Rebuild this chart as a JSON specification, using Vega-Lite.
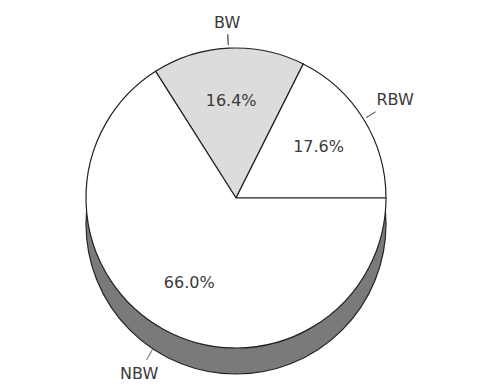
{
  "$schema": "https://vega.github.io/schema/vega-lite/v6.json",
  "width": 489,
  "height": 389,
  "autosize": {"type": "fit", "contains": "padding"},
  "padding": {"left": 0, "right": 17, "top": 0, "bottom": 8},
  "background": "white",
  "config": {
    "view": {"stroke": null},
    "text": {"font": "DejaVu Sans", "fontSize": 16, "fill": "#3a3a3a"}
  },
  "data": {
    "values": [
      {"part": "BW", "share": 16.4, "o": 1, "label": "16.4%"},
      {"part": "RBW", "share": 17.6, "o": 2, "label": "17.6%"},
      {"part": "NBW", "share": 66.0, "o": 3, "label": "66.0%"}
    ]
  },
  "layer": [
    {
      "data": {"values": [{"part": "side"}]},
      "mark": {"type": "arc", "theta": 0, "theta2": 6.2832, "radius": 150, "yOffset": 26, "fill": "#7a7a7a", "stroke": "#222222", "strokeWidth": 1.2},
      "encoding": {}
    },
    {
      "mark": {"type": "arc", "radius": 150, "stroke": "#222222", "strokeWidth": 1.2},
      "encoding": {
        "theta": {"field": "share", "type": "quantitative", "stack": true, "scale": {"domain": [0, 100], "range": [-0.5655, 5.7177]}},
        "order": {"field": "o", "type": "quantitative"},
        "color": {"field": "part", "type": "nominal", "scale": {"domain": ["BW", "RBW", "NBW"], "range": ["#dcdcdc", "#ffffff", "#ffffff"]}, "legend": null}
      }
    },
    {
      "mark": {"type": "text", "radius": 97},
      "encoding": {
        "theta": {"field": "share", "type": "quantitative", "stack": true, "scale": {"domain": [0, 100], "range": [-0.5655, 5.7177]}},
        "order": {"field": "o", "type": "quantitative"},
        "text": {"field": "label"}
      }
    },
    {
      "mark": {"type": "arc", "radius": 164, "radius2": 153, "padAngle": 3, "fillOpacity": 0, "stroke": "#666666", "strokeWidth": 1},
      "encoding": {
        "theta": {"field": "share", "type": "quantitative", "stack": true, "scale": {"domain": [0, 100], "range": [-0.5655, 5.7177]}},
        "order": {"field": "o", "type": "quantitative"},
        "strokeOpacity": {"condition": {"test": "datum.part === 'NBW'", "value": 0}, "value": 1}
      }
    },
    {
      "mark": {"type": "text", "radius": 179, "angle": 119, "fontSize": 13, "fill": "#666666"},
      "encoding": {
        "theta": {"field": "share", "type": "quantitative", "stack": true, "scale": {"domain": [0, 100], "range": [-0.5655, 5.7177]}},
        "order": {"field": "o", "type": "quantitative"},
        "text": {"condition": {"test": "datum.part === 'NBW'", "value": "—"}, "value": ""}
      }
    },
    {
      "mark": {"type": "text", "radius": 175},
      "encoding": {
        "theta": {"field": "share", "type": "quantitative", "stack": true, "scale": {"domain": [0, 100], "range": [-0.5655, 5.7177]}},
        "order": {"field": "o", "type": "quantitative"},
        "text": {"condition": {"test": "datum.part === 'BW'", "field": "part"}, "value": ""}
      }
    },
    {
      "mark": {"type": "text", "radius": 187},
      "encoding": {
        "theta": {"field": "share", "type": "quantitative", "stack": true, "scale": {"domain": [0, 100], "range": [-0.5655, 5.7177]}},
        "order": {"field": "o", "type": "quantitative"},
        "text": {"condition": {"test": "datum.part === 'RBW'", "field": "part"}, "value": ""}
      }
    },
    {
      "mark": {"type": "text", "radius": 201},
      "encoding": {
        "theta": {"field": "share", "type": "quantitative", "stack": true, "scale": {"domain": [0, 100], "range": [-0.5655, 5.7177]}},
        "order": {"field": "o", "type": "quantitative"},
        "text": {"condition": {"test": "datum.part === 'NBW'", "field": "part"}, "value": ""}
      }
    }
  ]
}
